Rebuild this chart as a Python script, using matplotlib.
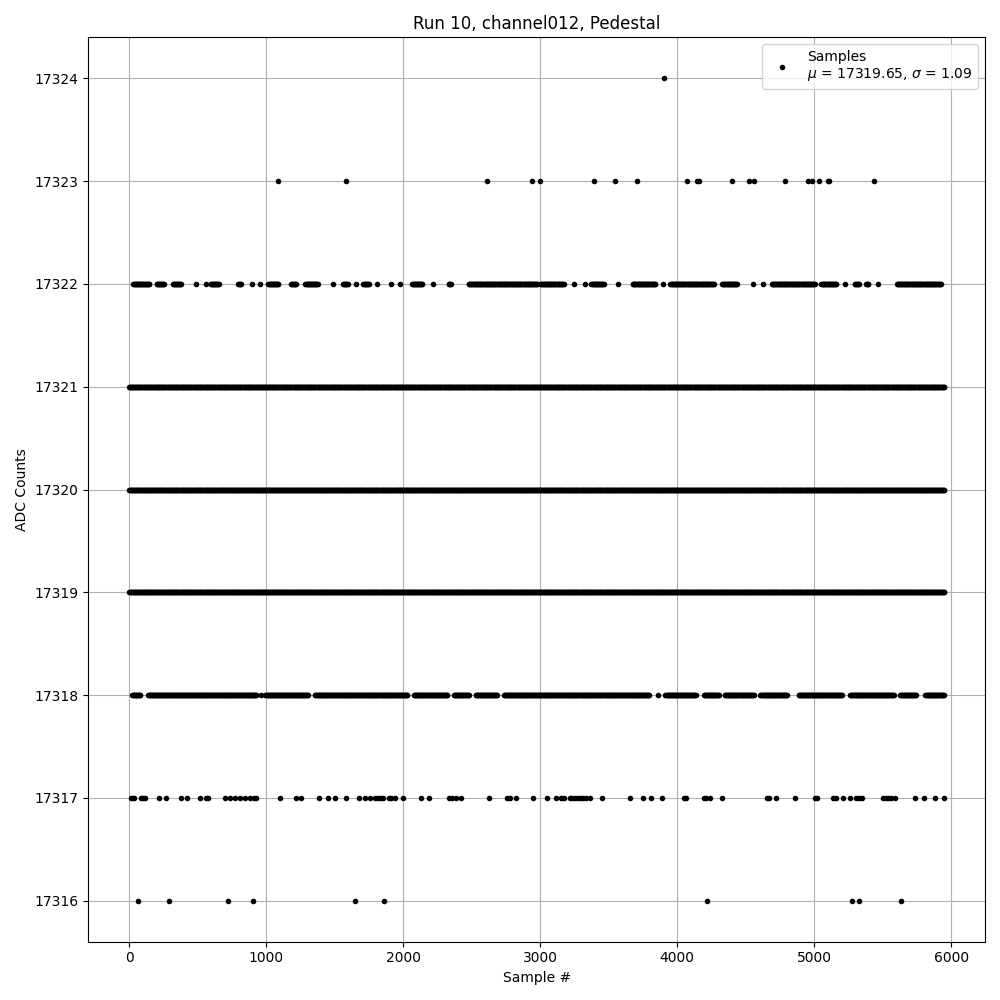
import matplotlib
matplotlib.use("Agg")
import matplotlib.pyplot as plt
import numpy as np

# sample indices of the sparse ADC levels
x_17324 = [3905]
x_17323 = [1089, 1584, 2612, 2939, 2996, 3393, 3545, 3704, 4069, 4147, 4159,
           4404, 4527, 4560, 4785, 4953, 4986, 5035, 5100, 5110, 5440]
x_17317 = [10, 22, 34, 90, 102, 114, 219, 272, 382, 423, 516, 560, 577, 698,
           735, 771, 808, 844, 881, 910, 929, 1100, 1221, 1258, 1384, 1448,
           1506, 1586, 1679, 1720, 1757, 1793, 1818, 1842, 1854, 1898, 1915,
           1939, 2000, 2134, 2190, 2336, 2360, 2389, 2426, 2628, 2759, 2783,
           2822, 2949, 3051, 3114, 3156, 3175, 3217, 3236, 3255, 3277, 3297,
           3314, 3333, 3363, 3455, 3655, 3752, 3813, 3891, 4049, 4063, 4197,
           4214, 4238, 4324, 4657, 4672, 4725, 4861, 5007, 5022, 5139, 5158,
           5212, 5265, 5309, 5328, 5348, 5504, 5523, 5540, 5564, 5589, 5740,
           5805, 5883, 5946]
x_17316 = [65, 291, 720, 905, 1650, 1862, 4216, 5280, 5325, 5632]

# (first, last) sample of each stretch of dots on the busier levels
runs_17322 = [(27, 151), (200, 255), (319, 382), (491, 491), (560, 560),
              (594, 657), (796, 820), (895, 895), (956, 956), (1015, 1090),
              (1182, 1221), (1287, 1380), (1487, 1487), (1560, 1599),
              (1659, 1659), (1708, 1752), (1808, 1808), (1915, 1915),
              (1978, 1978), (2066, 2141), (2217, 2217), (2333, 2348),
              (2479, 2980), (3002, 3175), (3248, 3248), (3331, 3331),
              (3375, 3467), (3569, 3569), (3676, 3844), (3900, 3900),
              (3951, 4270), (4328, 4440), (4555, 4555), (4625, 4625),
              (4693, 5005), (5053, 5163), (5229, 5229), (5297, 5328),
              (5382, 5401), (5465, 5465), (5606, 5929)]
runs_17321 = [(0, 5950)]
runs_17320 = [(0, 5950)]
runs_17319 = [(0, 5950)]
runs_17318 = [(22, 85), (139, 929), (961, 961), (995, 1307), (1355, 2032),
              (2078, 2324), (2370, 2482), (2530, 2689), (2735, 3796),
              (3861, 3861), (3915, 4136), (4195, 4307), (4348, 4562),
              (4608, 4805), (4888, 5207), (5265, 5584), (5630, 5749),
              (5813, 5949)]


def expand(runs, step=5):
    pts = []
    for a, b in runs:
        pts.extend(range(a, b + 1, step) if b > a else [a])
    return pts


levels = [(17324, x_17324), (17323, x_17323),
          (17322, expand(runs_17322)), (17321, expand(runs_17321)),
          (17320, expand(runs_17320)), (17319, expand(runs_17319)),
          (17318, expand(runs_17318)), (17317, x_17317), (17316, x_17316)]

xs = np.concatenate([np.asarray(v, float) for _, v in levels])
ys = np.concatenate([np.full(len(v), lvl, float) for lvl, v in levels])

fig, ax = plt.subplots(figsize=(10, 10))
ax.plot(xs, ys, "k.", label="Samples\n$\\mu$ = 17319.65, $\\sigma$ = 1.09")
ax.set_title("Run 10, channel012, Pedestal")
ax.set_xlabel("Sample #")
ax.set_ylabel("ADC Counts")
ax.ticklabel_format(axis="y", useOffset=False)
ax.grid(True)
ax.legend(loc="upper right")
fig.tight_layout()
fig.savefig("out.png", dpi=100)
